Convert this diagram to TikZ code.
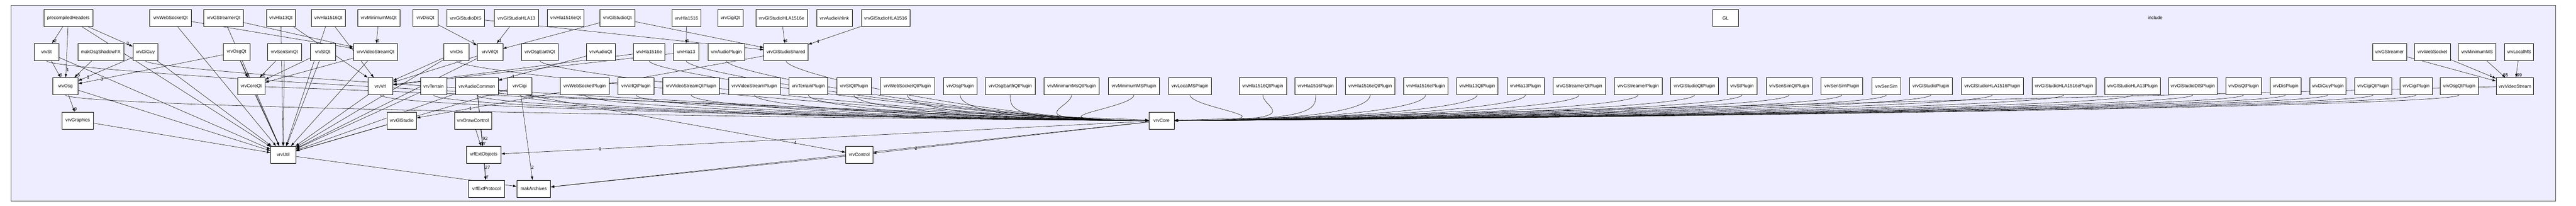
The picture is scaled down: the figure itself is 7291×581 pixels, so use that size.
\documentclass[tikz,border=0pt]{standalone}
\usepackage{fontspec}
\setmainfont{Liberation Sans}
\usetikzlibrary{arrows.meta}

% one package box: name/label, left edge, right edge, centre y
\newcommand{\pkg}[4]{\node[pkg, minimum width={#3pt-#2pt}] (#1) at ({(#2+#3)/2},#4) {#1};}

\pgfdeclarelayer{frame}
\pgfdeclarelayer{edges}
\pgfsetlayers{frame,edges,main}

\tikzset{
  pkg/.style={draw=black, fill=white, line width=0.9pt, minimum height=48pt, inner sep=0pt,
    font=\fontsize{13}{15}\selectfont},
  dep/.style={-{Latex[length=10pt,width=7pt]}, line width=0.8pt},
  lab/.style={font=\fontsize{13}{15}\selectfont, inner sep=1pt}
}

\begin{document}
\begin{tikzpicture}[x=1pt, y=-1pt, line cap=round, line join=round]
  \useasboundingbox (0,0) rectangle (7291,581);

  % directory frame
  \begin{pgfonlayer}{frame}
    \draw[draw=black!70, fill=blue!7, line width=1.5pt] (32,16) rectangle (7234,568);
  \end{pgfonlayer}
  \node[lab] (incl) at (6100,50) {include};

  % row 1
  \pkg{precompiledHeaders}{124}{263}{51}
  \pkg{vrvWebSocketQt}{424}{541}{51}
  \pkg{vrvGStreamerQt}{577}{689}{51}
  \pkg{vrvHla13Qt}{754}{836}{51}
  \pkg{vrvHla1516Qt}{881}{978}{51}
  \pkg{vrvMinimumMsQt}{1012}{1132}{51}
  \pkg{vrvDisQt}{1168}{1240}{51}
  \pkg{vrvGlStudioDIS}{1265}{1371}{51}
  \pkg{vrvGlStudioHLA13}{1399}{1524}{51}
  \pkg{vrvHla1516eQt}{1549}{1653}{51}
  \pkg{vrvGlStudioQt}{1698}{1797}{51}
  \pkg{vrvHla1516}{1902}{1984}{51}
  \pkg{vrvCigiQt}{2031}{2103}{51}
  \pkg{vrvGlStudioHLA1516e}{2139}{2285}{51}
  \pkg{vrvAudioVrlink}{2311}{2412}{51}
  \pkg{vrvGlStudioHLA1516}{2438}{2575}{51}
  \pkg{GL}{4848}{4920}{51}

  % row 2
  \pkg{vrvSt}{96}{167}{147}
  \pkg{makOsgShadowFX}{220}{351}{147}
  \pkg{vrvDiGuy}{376}{447}{147}
  \pkg{vrvOsgQt}{632}{707}{147}
  \pkg{vrvSenSimQt}{757}{853}{147}
  \pkg{vrvStQt}{878}{949}{147}
  \pkg{vrvVideoStreamQt}{1001}{1125}{147}
  \pkg{vrvDis}{1256}{1328}{147}
  \pkg{vrvVrlQt}{1351}{1423}{147}
  \pkg{vrvOsgEarthQt}{1476}{1580}{147}
  \pkg{vrvAudioQt}{1660}{1741}{147}
  \pkg{vrvHla1516e}{1792}{1882}{147}
  \pkg{vrvHla13}{1906}{1978}{147}
  \pkg{vrvAudioPlugin}{2004}{2108}{147}
  \pkg{vrvGlStudioShared}{2162}{2287}{147}
  \pkg{vrvGStreamer}{6715}{6811}{147}
  \pkg{vrvWebSocket}{6834}{6935}{147}
  \pkg{vrvMinimumMS}{6958}{7064}{147}
  \pkg{vrvLocalMS}{7089}{7171}{147}

  % row 3
  \pkg{vrvOsg}{149}{221}{243.5}
  \pkg{vrvCoreQt}{672}{750}{243.5}
  \pkg{vrvVrl}{1041}{1112}{243.5}
  \pkg{vrvTerrain}{1190}{1264}{243.5}
  \pkg{vrvAudioCommon}{1289}{1410}{243.5}
  \pkg{vrvCigi}{1436}{1506}{243.5}
  \pkg{vrvWebSocketPlugin}{1585}{1724}{243.5}
  \pkg{vrvVrlQtPlugin}{1749}{1851}{243.5}
  \pkg{vrvVideoStreamQtPlugin}{1876}{2036}{243.5}
  \pkg{vrvVideoStreamPlugin}{2062}{2208}{243.5}
  \pkg{vrvTerrainPlugin}{2233}{2343}{243.5}
  \pkg{vrvStQtPlugin}{2368}{2466}{243.5}
  \pkg{vrvWebSocketQtPlugin}{2491}{2645}{243.5}
  \pkg{vrvOsgPlugin}{2670}{2765}{243.5}
  \pkg{vrvOsgEarthQtPlugin}{2789}{2930}{243.5}
  \pkg{vrvMinimumMsQtPlugin}{2955}{3111}{243.5}
  \pkg{vrvMinimumMSPlugin}{3137}{3282}{243.5}
  \pkg{vrvLocalMSPlugin}{3307}{3429}{243.5}
  \pkg{vrvHla1516QtPlugin}{3507}{3641}{243.5}
  \pkg{vrvHla1516Plugin}{3665}{3783}{243.5}
  \pkg{vrvHla1516eQtPlugin}{3808}{3948}{243.5}
  \pkg{vrvHla1516ePlugin}{3972}{4098}{243.5}
  \pkg{vrvHla13QtPlugin}{4122}{4240}{243.5}
  \pkg{vrvHla13Plugin}{4265}{4370}{243.5}
  \pkg{vrvGStreamerQtPlugin}{4395}{4544}{243.5}
  \pkg{vrvGStreamerPlugin}{4569}{4704}{243.5}
  \pkg{vrvGlStudioQtPlugin}{4728}{4864}{243.5}
  \pkg{vrvStPlugin}{4888}{4973}{243.5}
  \pkg{vrvSenSimQtPlugin}{4999}{5129}{243.5}
  \pkg{vrvSenSimPlugin}{5154}{5272}{243.5}
  \pkg{vrvSenSim}{5298}{5380}{243.5}
  \pkg{vrvGlStudioPlugin}{5404}{5526}{243.5}
  \pkg{vrvGlStudioHLA1516Plugin}{5552}{5726}{243.5}
  \pkg{vrvGlStudioHLA1516ePlugin}{5751}{5932}{243.5}
  \pkg{vrvGlStudioHLA13Plugin}{5957}{6114}{243.5}
  \pkg{vrvGlStudioDISPlugin}{6138}{6275}{243.5}
  \pkg{vrvDisQtPlugin}{6300}{6400}{243.5}
  \pkg{vrvDisPlugin}{6425}{6513}{243.5}
  \pkg{vrvDiGuyPlugin}{6537}{6640}{243.5}
  \pkg{vrvCigiQtPlugin}{6665}{6769}{243.5}
  \pkg{vrvCigiPlugin}{6793}{6884}{243.5}
  \pkg{vrvOsgQtPlugin}{6907}{7014}{243.5}
  \pkg{vrvVideoStream}{7065}{7171}{243.5}

  % rows 4 to 6
  \pkg{vrvGraphics}{176}{264}{340.5}
  \pkg{vrvGlStudio}{1095}{1179}{340.5}
  \pkg{vrvDrawControl}{1286}{1391}{340.5}
  \pkg{vrvCore}{3252}{3323}{340.5}
  \pkg{vrvUtil}{766}{837}{437}
  \pkg{vrfExtObjects}{1320}{1418}{437}
  \pkg{vrvControl}{2394}{2470}{437}
  \pkg{vrfExtProtocol}{1326}{1428}{533}
  \pkg{makArchives}{1463}{1558}{533}

  \begin{pgfonlayer}{edges}
  % labelled dependencies
  \foreach \s/\t/\l in {precompiledHeaders/vrvSt/2, precompiledHeaders/vrvOsg/1,
      precompiledHeaders/vrvDiGuy/3, vrvSt/vrvOsg/6, makOsgShadowFX/vrvOsg/5,
      vrvDiGuy/vrvOsg/1, vrvOsgQt/vrvOsg/3, vrvOsg/vrvGraphics/9,
      vrvOsgQt/vrvCoreQt/8, vrvSenSimQt/vrvCoreQt/2, vrvStQt/vrvCoreQt/,
      vrvWebSocketQt/vrvVideoStreamQt/2, vrvMinimumMsQt/vrvVideoStreamQt/2,
      vrvGStreamerQt/vrvVideoStreamQt/, vrvDisQt/vrvVrlQt/1,
      vrvGlStudioHLA13/vrvVrlQt/1, vrvGlStudioQt/vrvVrlQt/, vrvHla1516/vrvHla13/1,
      vrvGlStudioHLA1516e/vrvGlStudioShared/4, vrvGlStudioHLA1516/vrvGlStudioShared/4,
      vrvGlStudioDIS/vrvGlStudioShared/4, vrvGlStudioQt/vrvGlStudioShared/,
      vrvAudioQt/vrvAudioCommon/1, vrvVrlQt/vrvVrl/, vrvHla13Qt/vrvVrl/,
      vrvHla1516Qt/vrvVrl/, vrvDis/vrvVrl/, vrvHla13/vrvVrl/, vrvHla1516e/vrvVrl/,
      vrvVideoStreamQt/vrvCoreQt/, vrvGlStudioShared/vrvGlStudio/1,
      vrvDrawControl/vrfExtObjects/17, vrvAudioCommon/vrfExtObjects/92,
      vrfExtObjects/vrfExtProtocol/7, vrvAudioCommon/vrfExtProtocol/27,
      vrvCigi/makArchives/2, vrvAudioCommon/vrvControl/4, vrvCore/vrvControl/2,
      vrvCore/vrfExtObjects/1, vrvCore/makArchives/, vrvControl/makArchives/,
      vrvUtil/makArchives/, vrvGStreamer/vrvVideoStream/, vrvWebSocket/vrvVideoStream/1,
      vrvMinimumMS/vrvVideoStream/35, vrvLocalMS/vrvVideoStream/99,
      vrvVideoStream/vrvCore/, vrvCoreQt/vrvUtil/, vrvCoreQt/vrvCore/}
    \draw[dep] (\s) -- node[lab, pos=0.85, right] {\l} (\t);

  % into vrvCore from the left
  \foreach \s in {vrvWebSocketPlugin, vrvVrlQtPlugin, vrvVideoStreamQtPlugin,
      vrvVideoStreamPlugin, vrvTerrainPlugin, vrvStQtPlugin, vrvWebSocketQtPlugin,
      vrvOsgPlugin, vrvOsgEarthQtPlugin, vrvMinimumMsQtPlugin, vrvMinimumMSPlugin,
      vrvSt, vrvOsg, vrvDiGuy, vrvVrl, vrvTerrain, vrvCigi, vrvAudioCommon,
      vrvGlStudioShared, vrvHla13, vrvHla1516e, vrvDis, vrvAudioPlugin, vrvOsgEarthQt}
    \draw[dep] (\s.south) .. controls +(0,40) and +(-400,0) .. (vrvCore.west);

  % into vrvCore from the right
  \foreach \s in {vrvLocalMSPlugin, vrvHla1516QtPlugin, vrvHla1516Plugin,
      vrvHla1516eQtPlugin, vrvHla1516ePlugin, vrvHla13QtPlugin, vrvHla13Plugin,
      vrvGStreamerQtPlugin, vrvGStreamerPlugin, vrvGlStudioQtPlugin, vrvStPlugin,
      vrvSenSimQtPlugin, vrvSenSimPlugin, vrvSenSim, vrvGlStudioPlugin,
      vrvGlStudioHLA1516Plugin, vrvGlStudioHLA1516ePlugin, vrvGlStudioHLA13Plugin,
      vrvGlStudioDISPlugin, vrvDisQtPlugin, vrvDisPlugin, vrvDiGuyPlugin,
      vrvCigiQtPlugin, vrvCigiPlugin, vrvOsgQtPlugin}
    \draw[dep] (\s.south) .. controls +(0,40) and +(400,0) .. (vrvCore.east);

  % into vrvUtil
  \foreach \s in {precompiledHeaders, vrvSt, vrvOsg, vrvDiGuy, vrvGraphics, vrvOsgQt,
      vrvSenSimQt, vrvStQt, vrvWebSocketQt, vrvGStreamerQt, vrvHla13Qt, vrvHla1516Qt,
      vrvVideoStreamQt, vrvVrl, vrvTerrain, vrvGlStudio, vrvDis, vrvVrlQt,
      vrvAudioCommon, vrvCigi}
    \draw[dep] (\s) -- (vrvUtil);
  \end{pgfonlayer}
\end{tikzpicture}
\end{document}
